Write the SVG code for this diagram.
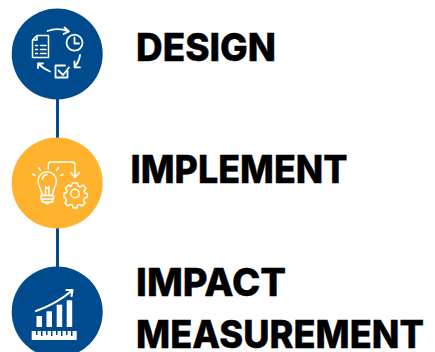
<svg xmlns="http://www.w3.org/2000/svg" width="435" height="352" viewBox="0 0 435 352">
<style>
.t{font-family:"Inter","Liberation Sans",sans-serif;font-weight:800;font-size:38px;fill:#000;stroke:#000;stroke-width:.4}
.i{fill:none;stroke:#fff;stroke-width:1.500;stroke-linecap:round;stroke-linejoin:round}
.d{stroke-width:1.800}
.a{stroke-width:2.200}
.f{fill:#fff}
.c{stroke:#004b8d;stroke-width:3;fill:none}
</style>
<rect width="435" height="352" fill="#fff"/>
<g id="connectors">
<line class="c" x1="57.500" y1="98" x2="57.500" y2="140"/>
<line class="c" x1="57.500" y1="227" x2="57.500" y2="269"/>
</g>
<g id="node-design">
<circle cx="57.200" cy="54" r="45.500" fill="#004b8d"/>
<g class="i">
<path d="M37 35.500H48.500V57.500H32.500V40ZM37 35.500V40H32.500"/>
<path d="M35.500 45.500H37.500M40.500 45.500H46M35.500 49.500H37.500M40.500 49.500H46M35.500 53.500H37.500M40.500 53.500H46"/>
</g>
<g class="i d">
<path d="M47.500 31Q58 27 68.500 31.500M64.500 27.500L69 31.500L63.500 34"/>
<circle cx="74.500" cy="42.700" r="8"/>
<path d="M74.500 37.500V43.500H79"/>
<path d="M80 55Q79 62 74.500 67M74.500 61.500V67.300H80"/>
<path d="M67.500 71V77.500H55.500V65.500H65M58.500 70.500L63 75L69 67.500"/>
<path d="M50 71.500Q43 68.500 38 63.500M38 68V63.500H43"/>
</g>
<text class="t" x="136" y="60.700" textLength="140" lengthAdjust="spacingAndGlyphs">DESIGN</text>
</g>
<g id="node-implement">
<circle cx="57.200" cy="183" r="45.500" fill="#ffb22e"/>
<g class="i">
<path d="M42 195.500C42 189 38 187 38 181A9.200 9.200 0 0 1 56.400 181C56.400 187 52.500 189 52.500 195.500Z"/>
<path d="M41 195.500H53.500V199H41ZM42 199V202H52.500V199M44.500 202.500Q47.200 205 50 202.500"/>
<path d="M45.500 195V186.500L47.200 188.500L49 186.500V195"/>
<path d="M42.500 179Q43 175 47 174.500"/>
<path d="M32.500 174L35 175.500M38.500 167.500L40.500 170.500M56.500 170.500L58.500 167.500M60.500 175.500L63 174.500"/>
<path d="M48.300 169V165Q48.300 162 51 162H72Q75 162 75 165V177M70.500 172.500L75 177.500L79.500 172.500"/>
<circle cx="75" cy="193.500" r="4.300"/>
<path d="M72.500 183H77.500L78 186L80.500 187L83 185L86 188.500L84 191L85 193L87.500 194L87 197.500L84.500 198L83.500 200.500L85 203L82 206L79.500 204.500L77.500 205L77 208H73L72.500 205L70 204.500L68 206L65 203L66.500 200.500L65.500 198L64 197.500V193.500L66.500 192.500L67 190.500L65.500 188L68.500 185L71 186.500Z"/>
</g>
<text class="t" x="130.500" y="183" textLength="217" lengthAdjust="spacingAndGlyphs">IMPLEMENT</text>
</g>
<g id="node-impact">
<circle cx="57.200" cy="312" r="45.500" fill="#004b8d"/>
<path class="i a" d="M36 311Q56 304 71.500 291"/>
<path class="i a" d="M66.500 290L72.500 290L71.500 296"/>
<g class="f">
<rect x="36.500" y="316" width="5.500" height="11"/>
<rect x="46.500" y="311.300" width="5.500" height="15.700"/>
<rect x="56.700" y="304.700" width="5.500" height="22.300"/>
<rect x="66.700" y="300.300" width="5.500" height="26.700"/>
<path d="M31.700 331H36V335H37.500V331H41V336H42.500V331H46V335H47.500V331H51V336H52.500V331H56V335H57.500V331H61V336H62.500V331H66V335H67.500V331H71V336H72.500V331H76.700V340H31.700Z"/>
</g>
<text class="t" x="136" y="295.700" textLength="150" lengthAdjust="spacingAndGlyphs">IMPACT</text>
<text class="t" x="136" y="348" textLength="288" lengthAdjust="spacingAndGlyphs">MEASUREMENT</text>
</g>
</svg>
